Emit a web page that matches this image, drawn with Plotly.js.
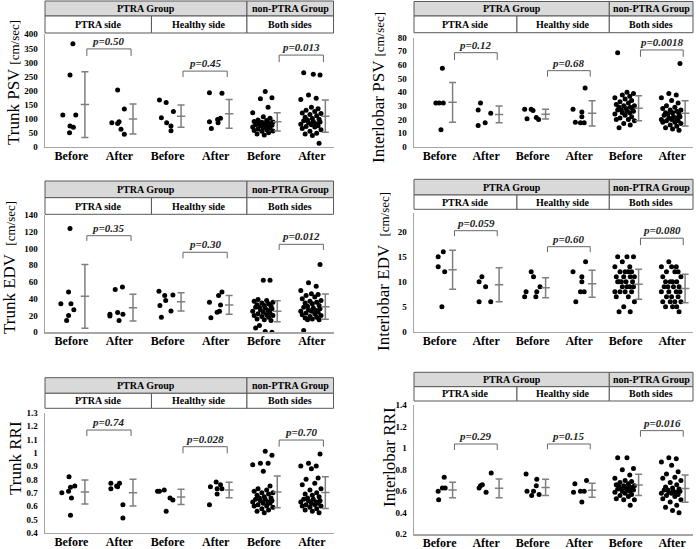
<!DOCTYPE html>
<html><head><meta charset="utf-8">
<script src="https://cdn.plot.ly/plotly-3.0.1.min.js"></script>
<style>html,body{margin:0;padding:0;background:#fff}#chart{width:696px;height:549px}</style>
</head><body><div id="chart"></div>
<script>
// ---------- DATA ----------
const categories = ['Before','After','Before','After','Before','After'];
const groupHeaders = ['PTRA Group','non-PTRA Group'];
const sideHeaders = ['PTRA side','Healthy side','Both sides'];

// Trunk PSV [cm/sec]
const trunkPSV = [
  [366,255,113,113,74,69,50],
  [202,134,85,83,89,62,44],
  [166,157,125,103,85,74,57],
  [192,190,101,97,89,85,65],
  [196,174,171,140,121,107,101,95,93,90,88,87,85,84,82,80,79,78,77,76,75,72,70,68,66,63,60,58,56,55,50,45,42],
  [263,258,255,184,172,168,140,135,130,125,120,118,115,110,105,100,98,95,92,90,88,85,82,80,78,75,72,70,65,60,55,48,45,40,12]
];
const trunkPSV_mean = [150,98.5,108.5,117,88.5,108.5];
const trunkPSV_sd = [117,53.5,39.5,51,32.5,57.5];
const trunkPSV_p = ['0.50','0.45','0.013'];

// Interlobar PSV [cm/sec]
const interPSV = [
  [57.5,32,32,32,12.5],
  [32,27,24.5,17.5,15.5],
  [27.5,27.5,26.5,20.5,21.5,20],
  [43,27.5,25.5,22,18,17.5,17.5],
  [69,40,39,38,37,36,35,34,33,32,31,30,30,29,29,28,28,27,27,26,26,25,25,24,23,22,21,20,20,19,17,16,14],
  [61,39,38,36,34,32,30,29,28,27,27,26,25,25,24,24,23,22,22,21,21,20,20,19,19,18,18,17,16,15,14,13,12]
];
const interPSV_mean = [32.6,23.7,23.9,24.5,28.2,24.5];
const interPSV_sd = [14.6,6.1,3.6,9.3,9.2,9.3];
const interPSV_p = ['0.12','0.68','0.0018'];

// Trunk EDV [cm/sec]
const trunkEDV = [
  [124,48,34,34,27,20,14],
  [54,51,23.5,21.5,21.5,19.5,14],
  [49,44,44.5,32,38,25.5,18],
  [36,48,44,32.5,25,24,17.5],
  [62,62,39,38,37,36,35,34,33,32,31,30,30,29,28,27,26,25,24,23,22,21,20,20,19,18,16,15,14,8,5,1,0],
  [81,59,55,50,46,45,44,42,40,38,37,36,35,34,32,31,30,29,28,27,26,25,25,24,23,22,21,20,19,18,17,16,15,15,2]
];
const trunkEDV_mean = [42.9,29.4,36.4,32.65,25.25,30.6];
const trunkEDV_sd = [38.1,15.9,10.9,11.15,12.55,15.1];
const trunkEDV_p = ['0.35','0.30','0.012'];

// Interlobar EDV [cm/sec]
const interEDV = [
  [15,16,13,12,5],
  [10,11,9,6,6],
  [12,11,8,8,9,7,7],
  [12,14,11,10,8,8,6],
  [15,15,15,14,13,13,12,12,12,12,11,11,11,11,10,10,10,10,10,9,9,9,9,8,8,8,8,7,7,6,5,4,4],
  [14,13,13,13,12,12,12,11,11,10,10,10,10,9,9,9,9,8,8,8,8,7,7,7,6,6,6,6,5,5,5,4]
];
const interEDV_mean = [12.4,9.4,8.8,9.6,9.5,8.65];
const interEDV_sd = [3.9,3.4,2.0,2.7,3.0,2.85];
const interEDV_p = ['0.059','0.60','0.080'];

// Trunk RRI
const trunkRRI = [
  [0.82,0.70,0.71,0.74,0.75,0.66,0.53],
  [0.77,0.75,0.77,0.73,0.745,0.61,0.51],
  [0.71,0.71,0.72,0.66,0.645,0.56],
  [0.61,0.745,0.78,0.76,0.73,0.73,0.69],
  [1.01,0.98,0.92,0.92,0.91,0.86,0.75,0.73,0.72,0.71,0.70,0.70,0.69,0.68,0.67,0.66,0.66,0.65,0.65,0.64,0.64,0.63,0.63,0.62,0.62,0.61,0.60,0.60,0.59,0.58,0.57,0.56,0.55],
  [0.99,0.92,0.90,0.90,0.88,0.81,0.80,0.77,0.76,0.73,0.72,0.70,0.69,0.68,0.67,0.66,0.65,0.65,0.64,0.64,0.63,0.63,0.62,0.62,0.61,0.61,0.60,0.60,0.59,0.58,0.57,0.56,0.55]
];
const trunkRRI_mean = [0.705,0.70,0.668,0.72,0.706,0.701];
const trunkRRI_sd = [0.09,0.10,0.057,0.058,0.119,0.119];
const trunkRRI_p = ['0.74','0.028','0.70'];

// Interlobar RRI
const interRRI = [
  [0.60,0.52,0.63,0.63,0.73],
  [0.63,0.65,0.66,0.59,0.77],
  [0.76,0.71,0.60,0.60,0.65,0.56,0.57],
  [0.67,0.70,0.59,0.60,0.60,0.50],
  [0.91,0.91,0.81,0.80,0.75,0.72,0.70,0.69,0.68,0.67,0.66,0.65,0.65,0.64,0.64,0.63,0.63,0.62,0.62,0.61,0.61,0.60,0.60,0.59,0.58,0.57,0.56,0.55,0.53,0.52,0.52,0.47],
  [0.91,0.90,0.87,0.84,0.78,0.76,0.73,0.72,0.70,0.68,0.66,0.64,0.63,0.62,0.61,0.61,0.60,0.60,0.59,0.59,0.58,0.58,0.57,0.56,0.55,0.53,0.52,0.50,0.47,0.45,0.42,0.40]
];
const interRRI_mean = [0.612,0.627,0.635,0.608,0.658,0.624];
const interRRI_sd = [0.072,0.087,0.076,0.065,0.099,0.127];
const interRRI_p = ['0.29','0.15','0.016'];

// horizontal scatter of the dots (offsets within a column;
// a number means: use the shared swarm pattern starting at that index)
const trunkPSV_jit = [[0.06,0,-0.15,0.12,0,0.07,-0.01],[-0.01,0.13,-0.13,-0.01,0.02,0.06,0.13],[-0.14,0,0.15,-0.10,0.01,0.10,0.10],[-0.10,0.16,0.13,0.07,-0.10,0.08,-0.06],1,0];
const interPSV_jit = [[0.09,-0.05,0.02,0.11,0.06],[-0.09,-0.14,0.13,0.01,-0.14],[-0.14,0,0.04,-0.09,0.11,0.16],[0.16,-0.10,0.09,0.09,-0.05,0.06,0.14],0,2];
const trunkEDV_jit = [[0,-0.03,-0.19,0.02,0.08,-0.03,-0.07],[0.09,-0.06,-0.01,0.10,-0.17,-0.17,0.02],[-0.15,-0.03,0.14,-0.13,-0.01,0.10,-0.10],[-0.10,0.16,0.09,0.13,0.11,0.06,-0.07],6,2];
const interEDV_jit = [[0,0.11,0,0.14,0.08],[-0.12,-0.06,0.02,-0.12,0.13],[0,0.05,-0.11,0.12,0.19,-0.14,0.10],[-0.10,0.17,0.09,0.09,0.06,0.14,-0.04],0,3];
const trunkRRI_jit = [[-0.02,-0.17,-0.03,0.01,0.10,0.03,0.01],[-0.15,-0.03,0.03,-0.15,-0.01,0.10,0.10],[-0.18,-0.14,-0.04,0.08,0.14,0],[-0.10,-0.08,0.04,0.13,0.06,0.16,0.06],1,2];
const interRRI_jit = [[0,0.01,0.09,0.15,0.13],[-0.12,-0.09,-0.05,0.03,0.14],[-0.11,0.12,-0.09,0.05,0.11,0.01,0.17],[-0.06,0.19,-0.09,0.06,0.14,0.09],0,3];
const swarm = [-0.14,0.06,0.2,-0.04,0.12,-0.2,0.02,0.16,-0.09,0.09,-0.17,0.22,-0.01,0.13,-0.11,0.04,0.18,-0.06];

// ---------- LAYOUT GEOMETRY ----------
const W = 696, H = 549;
const colX = [[45,333.5],[414,693]];
const panels = [
  {vals:trunkPSV, jit:trunkPSV_jit, mean:trunkPSV_mean, sd:trunkPSV_sd, p:trunkPSV_p, col:0, top:34.3, bot:146.7, range:[0,400], dtick:50,
   hdr:[1,16,33], title:'Trunk PSV <span style="font-size:13px">[cm/sec]</span>', tx:13, ty:83, br:[[348,323],[269,248],[326,301]]},
  {vals:interPSV, jit:interPSV_jit, mean:interPSV_mean, sd:interPSV_sd, p:interPSV_p, col:1, top:37.7, bot:146.7, range:[0,80], dtick:10,
   hdr:[1.5,16,32.7], title:'Interlobar PSV <span style="font-size:13px">[cm/sec]</span>', tx:378, ty:88, br:[[69,63.6],[55.8,51.4],[71,66]]},
  {vals:trunkEDV, jit:trunkEDV_jit, mean:trunkEDV_mean, sd:trunkEDV_sd, p:trunkEDV_p, col:0, top:215, bot:332.3, range:[0,140], dtick:20,
   hdr:[181,197.7,214.3], title:'Trunk EDV  <span style="font-size:13px">[cm/sec]</span>', tx:9, ty:268, br:[[115.3,109],[95.5,88.3],[105,98.2]]},
  {vals:interEDV, jit:interEDV_jit, mean:interEDV_mean, sd:interEDV_sd, p:interEDV_p, col:1, top:213.2, bot:331.7, range:[0,23.7], dtick:5,
   hdr:[179.3,195,209.3], title:'Interlobar EDV  <span style="font-size:13px">[cm/sec]</span>', tx:383, ty:272, br:[[20.2,19.1],[17,15.9],[18.7,17.3]]},
  {vals:trunkRRI, jit:trunkRRI_jit, mean:trunkRRI_mean, sd:trunkRRI_sd, p:trunkRRI_p, col:0, top:412.7, bot:532.7, range:[0.4,1.3], dtick:0.1,
   hdr:[377.7,393.3,408.3], title:'Trunk RRI', tx:15, ty:458, br:[[1.17,1.125],[1.045,0.995],[1.095,1.045]]},
  {vals:interRRI, jit:interRRI_jit, mean:interRRI_mean, sd:interRRI_sd, p:interRRI_p, col:1, top:405, bot:534.3, range:[0.2,1.4], dtick:0.2,
   hdr:[372.3,386.7,401], title:'Interlobar RRI', tx:389, ty:457, br:[[1.038,0.983],[1.038,0.989],[1.162,1.106]]}
];

const SERIF = 'Liberation Serif, Times New Roman, serif';
const GRAY = '#7f7f7f';
const py = v => 1 - v / H;
const traces = [], shapes = [], annotations = [];
const layout = {width:W, height:H, margin:{l:0,r:0,t:0,b:0}, paper_bgcolor:'#fff', plot_bgcolor:'rgba(0,0,0,0)',
  showlegend:false, font:{family:SERIF, color:'#000'}};

panels.forEach((P, k) => {
  const n = k + 1, s = n === 1 ? '' : String(n);
  const xa = 'x' + s, ya = 'y' + s;
  layout['xaxis' + s] = {domain:[colX[P.col][0]/W, colX[P.col][1]/W], range:[0,6], anchor:ya,
    showline:true, linecolor:'#a6a6a6', linewidth:1.5, ticks:'', showgrid:false, zeroline:false,
    tickmode:'array', tickvals:categories.map((c,i)=>i+0.55), ticktext:categories, ticklabelstandoff:-3,
    tickfont:{family:SERIF, size:12, color:'#000', weight:'bold'}, fixedrange:true};
  layout['yaxis' + s] = {domain:[py(P.bot), py(P.top)], range:P.range, anchor:xa,
    showline:true, linecolor:'#a6a6a6', linewidth:1.5, ticks:'', showgrid:false, zeroline:false,
    tick0:P.range[0], dtick:P.dtick, ticklabelstandoff:4,
    tickfont:{family:SERIF, size:9, color:'#000', weight:'bold'}, fixedrange:true};

  // dots
  P.vals.forEach((arr, i) => {
    const J = P.jit[i];
    const xs = arr.map((v, j) => i + 0.52 + (Array.isArray(J) ? J[j] : swarm[(j + J) % swarm.length]));
    traces.push({type:'scatter', mode:'markers', x:xs, y:arr, xaxis:xa, yaxis:ya,
      marker:{color:'#000', size:5}, hoverinfo:'skip'});
  });
  // mean ± SD
  traces.push({type:'scatter', mode:'markers', x:categories.map((c,i)=>i+0.83), y:P.mean, xaxis:xa, yaxis:ya,
    marker:{symbol:'line-ew', size:6, color:GRAY, line:{color:GRAY, width:1.5}},
    error_y:{type:'data', array:P.sd, visible:true, color:GRAY, thickness:1.5, width:3.5}, hoverinfo:'skip'});

  // brackets + p-values
  P.br.forEach((b, m) => {
    const x0 = 2*m + 0.87, x1 = 2*m + 1.79;
    shapes.push({type:'path', xref:xa, yref:ya, path:`M ${x0},${b[1]} L ${x0},${b[0]} L ${x1},${b[0]} L ${x1},${b[1]}`,
      line:{color:'#666', width:1}});
    annotations.push({xref:xa, yref:ya, x:(x0+x1)/2, y:b[0], yanchor:'bottom', xanchor:'center', showarrow:false,
      text:'p=' + P.p[m], font:{family:SERIF, size:11, color:'#222', weight:'bold', style:'italic'}});
  });

  // header table
  const dref = xa + ' domain';
  const [h0, h1, h2] = P.hdr;
  const row1 = [[0,0.70],[0.70,1]], row2 = [[0,0.369],[0.369,0.70],[0.70,1]];
  row1.forEach((c, m) => {
    shapes.push({type:'rect', xref:dref, yref:'paper', x0:c[0], x1:c[1], y0:py(h1), y1:py(h0),
      fillcolor:'#d9d9d9', line:{color:'#595959', width:1}});
    annotations.push({xref:dref, yref:'paper', x:(c[0]+c[1])/2, y:py((h0+h1)/2), xanchor:'center', yanchor:'middle',
      showarrow:false, text:groupHeaders[m], font:{family:SERIF, size:10, color:'#000', weight:'bold'}});
  });
  row2.forEach((c, m) => {
    shapes.push({type:'rect', xref:dref, yref:'paper', x0:c[0], x1:c[1], y0:py(h2), y1:py(h1),
      fillcolor:'#fff', line:{color:'#595959', width:1}});
    annotations.push({xref:dref, yref:'paper', x:(c[0]+c[1])/2, y:py((h1+h2)/2), xanchor:'center', yanchor:'middle',
      showarrow:false, text:sideHeaders[m], font:{family:SERIF, size:10, color:'#000', weight:'bold'}});
  });

  // y-axis title
  annotations.push({xref:'paper', yref:'paper', x:P.tx/W, y:py(P.ty), xanchor:'center', yanchor:'middle',
    textangle:-90, showarrow:false, text:P.title, font:{family:SERIF, size:17, color:'#000'}});
});

layout.shapes = shapes;
layout.annotations = annotations;
Plotly.newPlot('chart', traces, layout, {displayModeBar:false, staticPlot:true});
</script></body></html>
